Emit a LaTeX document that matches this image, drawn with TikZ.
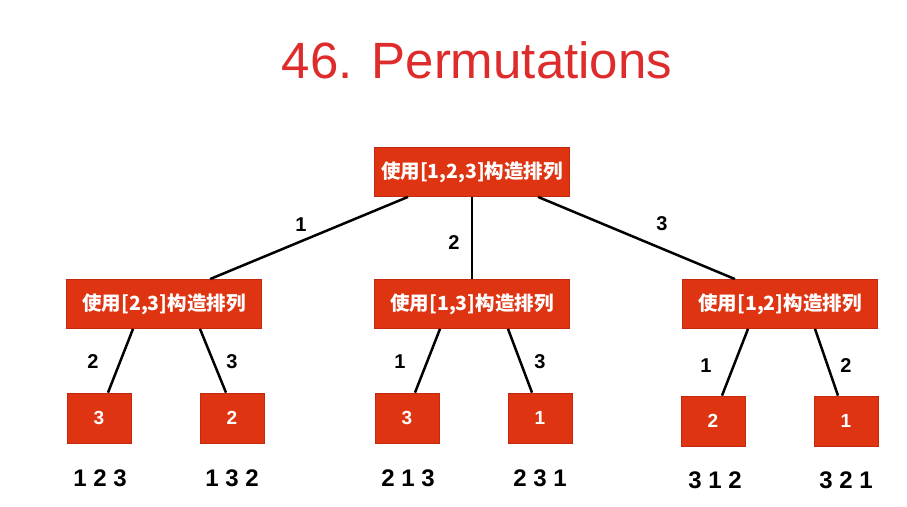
\documentclass[tikz,border=0pt]{standalone}
\usepackage{fontspec}
\setmainfont{Liberation Sans}
\newfontfamily\cjk{Noto Sans CJK SC}
\definecolor{boxred}{RGB}{222,52,18}
\definecolor{boxedge}{RGB}{196,40,14}
\definecolor{titlered}{RGB}{222,44,44}
\tikzset{
  box/.style={draw=boxedge, line width=0.8pt, fill=boxred, text=white, inner sep=0pt, anchor=center},
  bigbox/.style={box, minimum width=195pt, minimum height=49pt, font=\cjk\bfseries\fontsize{19.5}{21}\selectfont},
  leafbox/.style={box, minimum width=64pt, minimum height=50pt, font=\bfseries\fontsize{19}{21}\selectfont},
  edge/.style={line width=2.5pt, black},
  elabel/.style={font=\bfseries\fontsize{20}{22}\selectfont, inner sep=0pt},
  result/.style={font=\bfseries\fontsize{24}{26}\selectfont, inner sep=0pt},
}
\begin{document}
\begin{tikzpicture}[x=1pt,y=-1pt]
\useasboundingbox (0,0) rectangle (907,506);
\fill[white] (0,0) rectangle (907,506);
\node[font=\fontsize{51}{56}\selectfont, text=titlered, inner sep=0pt] (title) at (477,60) {46. Permutations};

\node[bigbox] (root) at (472,172) {使用[1,2,3]构造排列};
\node[bigbox] (a) at (164,304) {使用[2,3]构造排列};
\node[bigbox] (b) at (472,304) {使用[1,3]构造排列};
\node[bigbox] (c) at (780,304) {使用[1,2]构造排列};

\node[leafbox] (a1) at (99,418) {3};
\node[leafbox] (a2) at (232,418) {2};
\node[leafbox] (b1) at (407,418) {3};
\node[leafbox] (b2) at (540,418) {1};
\node[leafbox] (c1) at (713,421) {2};
\node[leafbox] (c2) at (846,421) {1};

\draw[edge] ([xshift=-64pt]root.south) -- ([xshift=46pt]a.north);
\draw[edge] (root.south) -- (b.north);
\draw[edge] ([xshift=66pt]root.south) -- ([xshift=-45pt]c.north);

\draw[edge] ([xshift=-31pt]a.south) -- ([xshift=9pt]a1.north);
\draw[edge] ([xshift=36pt]a.south) -- ([xshift=-6pt]a2.north);
\draw[edge] ([xshift=-32pt]b.south) -- ([xshift=8pt]b1.north);
\draw[edge] ([xshift=36pt]b.south) -- ([xshift=-8pt]b2.north);
\draw[edge] ([xshift=-32pt]c.south) -- ([xshift=9pt]c1.north);
\draw[edge] ([xshift=35pt]c.south) -- ([xshift=-8pt]c2.north);

\node[elabel] (l1) at (301,225) {1};
\node[elabel] (l2) at (454,243) {2};
\node[elabel] (l3) at (662,224) {3};
\node[elabel] (la1) at (93,362) {2};
\node[elabel] (la2) at (232,362) {3};
\node[elabel] (lb1) at (400,362) {1};
\node[elabel] (lb2) at (540,362) {3};
\node[elabel] (lc1) at (706,366) {1};
\node[elabel] (lc2) at (846,366) {2};

\node[result] (r1) at (100,478) {1 2 3};
\node[result] (r2) at (232,478) {1 3 2};
\node[result] (r3) at (408,478) {2 1 3};
\node[result] (r4) at (540,478) {2 3 1};
\node[result] (r5) at (715,480) {3 1 2};
\node[result] (r6) at (846,480) {3 2 1};
\end{tikzpicture}
\end{document}
